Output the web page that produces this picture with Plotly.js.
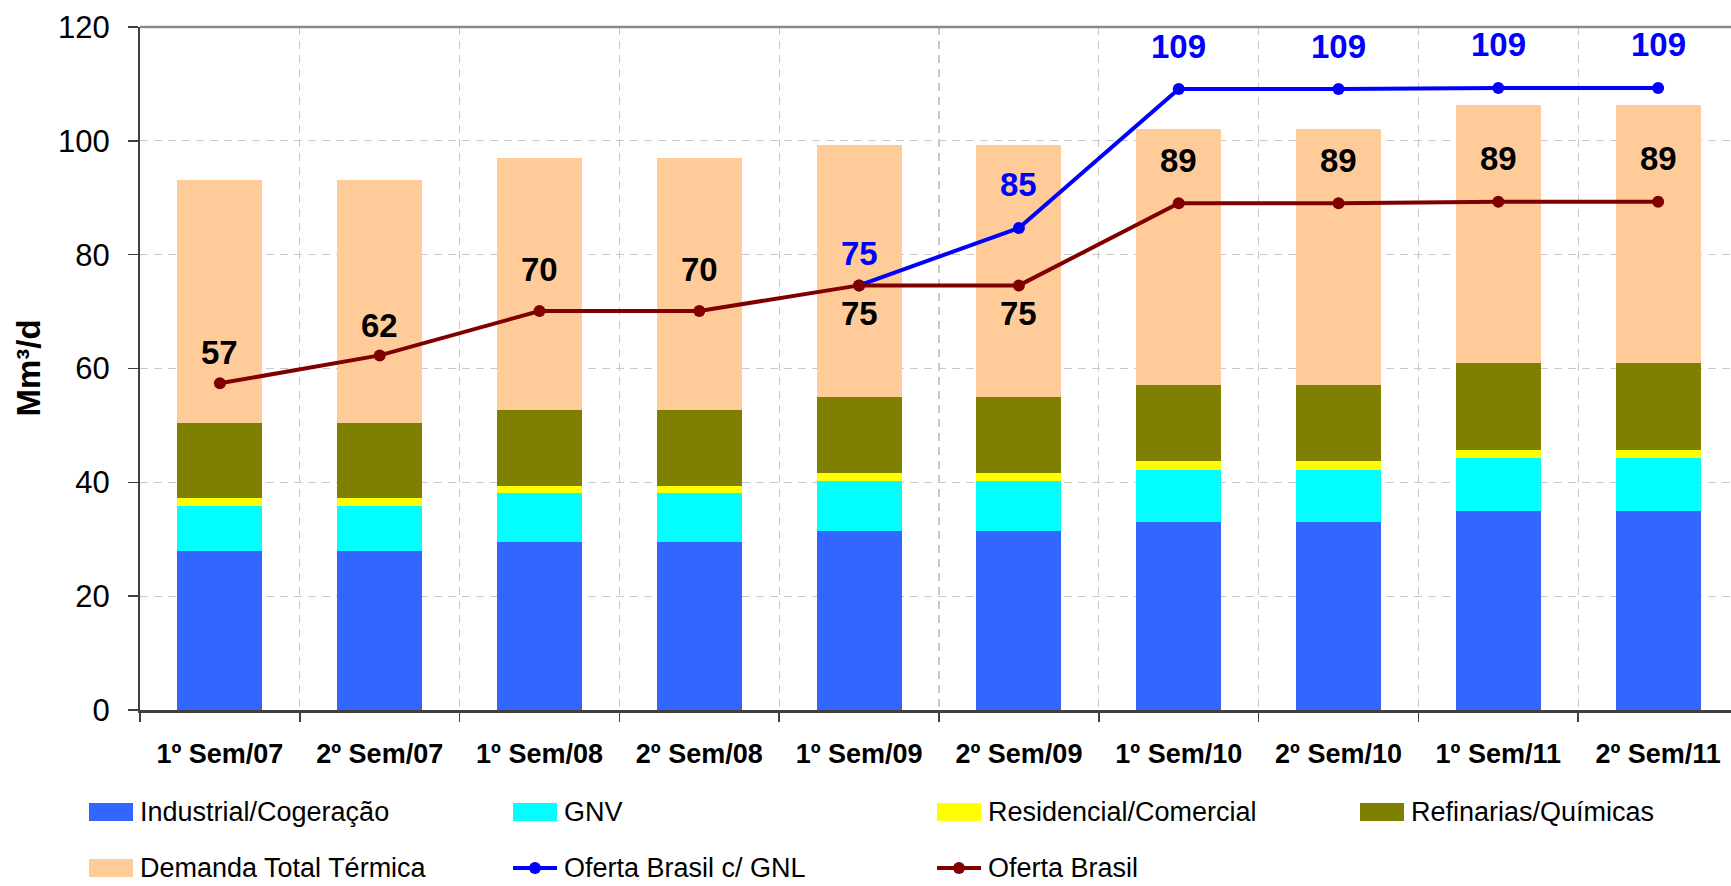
<!DOCTYPE html>
<html>
<head>
<meta charset="utf-8">
<script src="https://cdn.plot.ly/plotly-3.0.1.min.js"></script>
<style>
  html, body { margin: 0; padding: 0; background: #fff; }
  #chart { width: 1731px; height: 886px; }
</style>
</head>
<body>
<div id="chart"></div>
<script>
// ── Dados (Mm³/d) ────────────────────────────────────────────────────────────
const categorias = ['1º Sem/07', '2º Sem/07', '1º Sem/08', '2º Sem/08', '1º Sem/09',
                    '2º Sem/09', '1º Sem/10', '2º Sem/10', '1º Sem/11', '2º Sem/11'];

const industrial  = [27.9, 27.9, 29.5, 29.5, 31.5, 31.5, 33.0, 33.0, 35.0, 35.0];
const gnv         = [7.9, 7.9, 8.6, 8.6, 8.7, 8.7, 9.2, 9.2, 9.3, 9.3];
const residencial = [1.4, 1.4, 1.25, 1.25, 1.4, 1.4, 1.5, 1.5, 1.4, 1.4];
const refinarias  = [13.2, 13.2, 13.35, 13.35, 13.4, 13.4, 13.4, 13.4, 15.35, 15.35];
const termica     = [42.7, 42.7, 44.3, 44.3, 44.2, 44.2, 45.0, 45.0, 45.2, 45.2];

const ofertaGNL    = [null, null, null, null, 74.6, 84.7, 109.1, 109.1, 109.3, 109.3];
const ofertaBrasil = [57.4, 62.3, 70.1, 70.1, 74.6, 74.6, 89.05, 89.05, 89.3, 89.3];

// deslocamento vertical dos rótulos (px)
const shiftGNL    = [0, 0, 0, 0, 32, 43, 43, 43, 43, 43];
const shiftBrasil = [31, 30, 42, 42, -28, -28, 43, 43, 43, 43];

const C = {
    industrial: '#3366FF', gnv: '#00FFFF', residencial: '#FFFF00',
    refinarias: '#808000', termica: '#FFCC99',
    gnl: '#0000FF', brasil: '#800000',
};
const FONTE = 'Arial, "Liberation Sans", sans-serif';

// área do gráfico em px
const L = 140, T = 27, W = 1591, H = 683;
const px = x => (x - L) / W;
const py = y => (T + H - y) / H;

const barra = (nome, y, cor) => ({
    type: 'bar', name: nome, x: categorias, y: y,
    marker: { color: cor, line: { width: 0 } },
    hoverinfo: 'skip',
});
const linha = (nome, y, cor) => ({
    type: 'scatter', mode: 'lines+markers', name: nome, x: categorias, y: y,
    line: { color: cor, width: 4 },
    marker: { color: cor, size: 12 },
    hoverinfo: 'skip',
});

const traces = [
    barra('Industrial/Cogeração', industrial, C.industrial),
    barra('GNV', gnv, C.gnv),
    barra('Residencial/Comercial', residencial, C.residencial),
    barra('Refinarias/Químicas', refinarias, C.refinarias),
    barra('Demanda Total Térmica', termica, C.termica),
    linha('Oferta Brasil c/ GNL', ofertaGNL, C.gnl),
    linha('Oferta Brasil', ofertaBrasil, C.brasil),
];

// ── Rótulos dos pontos ───────────────────────────────────────────────────────
const annotations = [];
const rotulos = (serie, shifts, cor) => serie.forEach((v, i) => {
    if (v == null) return;
    annotations.push({
        x: categorias[i], y: v, yshift: shifts[i], text: String(Math.round(v)),
        showarrow: false, xanchor: 'center', yanchor: 'middle',
        font: { family: FONTE, size: 33, color: cor, weight: 'bold' },
    });
});
rotulos(ofertaGNL, shiftGNL, C.gnl);
rotulos(ofertaBrasil, shiftBrasil, '#000000');

// título do eixo Y
annotations.push({
    xref: 'paper', yref: 'paper', x: px(28), y: 0.5, textangle: -90,
    xanchor: 'center', yanchor: 'middle', showarrow: false, text: 'Mm³/d',
    font: { family: FONTE, size: 33, weight: 'bold', color: '#000000' },
});

// ── Legenda desenhada à mão ──────────────────────────────────────────────────
const shapes = [
    { type: 'line', xref: 'paper', yref: 'paper', x0: 0, x1: 1, y0: 1, y1: 1,
      line: { color: '#888888', width: 2.5 } },
];
const legenda = [
    { nome: 'Industrial/Cogeração',  cor: C.industrial,  x: 89,   y: 812 },
    { nome: 'GNV',                   cor: C.gnv,         x: 513,  y: 812 },
    { nome: 'Residencial/Comercial', cor: C.residencial, x: 937,  y: 812 },
    { nome: 'Refinarias/Químicas',   cor: C.refinarias,  x: 1360, y: 812 },
    { nome: 'Demanda Total Térmica', cor: C.termica,     x: 89,   y: 868 },
    { nome: 'Oferta Brasil c/ GNL',  cor: C.gnl,         x: 513,  y: 868, linha: true },
    { nome: 'Oferta Brasil',         cor: C.brasil,      x: 937,  y: 868, linha: true },
];
legenda.forEach(e => {
    if (e.linha) {
        shapes.push({ type: 'line', xref: 'paper', yref: 'paper',
            x0: px(e.x), x1: px(e.x + 44), y0: py(e.y), y1: py(e.y),
            line: { color: e.cor, width: 4 } });
        shapes.push({ type: 'circle', xref: 'paper', yref: 'paper',
            x0: px(e.x + 16), x1: px(e.x + 28), y0: py(e.y + 6), y1: py(e.y - 6),
            fillcolor: e.cor, line: { width: 0 } });
    } else {
        shapes.push({ type: 'rect', xref: 'paper', yref: 'paper',
            x0: px(e.x), x1: px(e.x + 44), y0: py(e.y + 9), y1: py(e.y - 9),
            fillcolor: e.cor, line: { width: 0 } });
    }
    annotations.push({
        xref: 'paper', yref: 'paper', x: px(e.x + 49), y: py(e.y),
        xanchor: 'left', yanchor: 'middle', showarrow: false, text: e.nome,
        font: { family: FONTE, size: 27, color: '#000000' },
    });
});

const layout = {
    width: 1731, height: 886,
    margin: { l: L, r: 1731 - L - W, t: T, b: 886 - T - H, pad: 0 },
    paper_bgcolor: '#FFFFFF', plot_bgcolor: '#FFFFFF',
    font: { family: FONTE, color: '#000000' },
    barmode: 'stack', bargap: 0.468,
    showlegend: false,
    xaxis: {
        type: 'category', range: [-0.5, 9.456], tickson: 'boundaries',
        showgrid: true, gridcolor: '#C8C8C8', gridwidth: 1.2, griddash: '8px,6px',
        showline: true, linecolor: '#404040', linewidth: 2.5,
        ticks: 'outside', ticklen: 9, tickcolor: '#404040', tickwidth: 1.5,
        tickfont: { family: FONTE, size: 27, weight: 'bold', color: '#000000' },
        ticklabelstandoff: 18,
        fixedrange: true,
    },
    yaxis: {
        range: [0, 120], tickvals: [0, 20, 40, 60, 80, 100, 120],
        showgrid: true, gridcolor: '#C8C8C8', gridwidth: 1.2, griddash: '8px,6px',
        zeroline: false,
        showline: true, linecolor: '#404040', linewidth: 2,
        ticks: 'outside', ticklen: 10, tickcolor: '#404040', tickwidth: 1.5,
        tickfont: { family: FONTE, size: 31, color: '#000000' },
        ticklabelstandoff: 12,
        fixedrange: true,
    },
    shapes: shapes,
    annotations: annotations,
};

Plotly.newPlot('chart', traces, layout, { displayModeBar: false, staticPlot: true });
</script>
</body>
</html>
